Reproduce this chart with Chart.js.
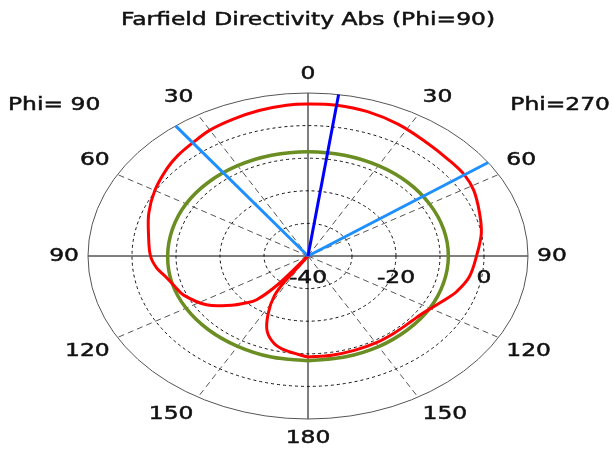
<!DOCTYPE html>
<html>
<head>
<meta charset="utf-8">
<script src="https://cdn.jsdelivr.net/npm/chart.js@4.4.1/dist/chart.umd.min.js"></script>
<style>
  body { margin: 0; background: #fff; }
  canvas { display: block; }
</style>
</head>
<body>
<canvas id="farfield" width="613" height="450"></canvas>
<script>
// radial range in dB (centre .. outer ring)
const rMin = -40;
const rMax = 10;
const ringLevels = [-30, -20, -10, 0];
const tickLevels = [-40, -20, 0];
const spokeAngles = [-150, -120, -60, -30, 30, 60, 120, 150];
const angleTicks = [0, 30, 60, 90, 120, 150, 180, -150, -120, -90, -60, -30];

// red: directivity, theta in degrees clockwise from top (left side negative)
const redTheta = [-180, -170, -164, -158, -153, -148, -146, -144, -142, -139, -135, -131, -123, -113, -107, -101, -96,
  -90, -80, -70, -60, -50, -44, -37, -30, -22, -14, -6, 0, 8, 17, 27, 38, 47, 55, 62, 71, 80,
  90, 100, 108, 113, 119, 125, 130, 140, 150, 160, 170, 180];
const redDb = [-9.0, -10.6, -12.1, -15.2, -20.0, -25.5, -31.0, -40.0, -29.0, -22.2, -19.5, -17.0, -12.5, -9.3, -8.3, -7.0, -5.4,
  -4.2, -3.2, -1.5, 0.2, 1.8, 2.7, 3.5, 4.6, 5.3, 6.0, 6.5, 6.6, 6.7, 6.3, 5.3, 4.0, 3.5, 3.4, 2.7, 1.2, 0.0,
  -1.7, -2.8, -4.5, -6.0, -7.6, -8.7, -9.1, -9.3, -9.2, -9.2, -9.1, -9.0];

// green: reference level
const greenTheta = [-180, -165, -150, -135, -120, -105, -90, -75, -60, -45, -30, -15,
  0, 15, 30, 45, 60, 75, 90, 105, 120, 135, 150, 165, 180];
const greenDb = [-7.9, -7.9, -8.0, -8.0, -8.0, -8.0, -8.1, -8.1, -8.0, -8.0, -8.0, -8.0,
  -8.0, -8.0, -8.0, -8.0, -8.1, -8.1, -8.1, -8.1, -8.0, -8.0, -7.9, -7.9, -7.9];

// main lobe direction and 3 dB beam edges
const mainLobeTheta = [8];
const beamEdgeTheta = [-37, 55];

function toXY(theta, db) {
  const r = Math.max(db, rMin) - rMin;
  const a = theta * Math.PI / 180;
  return { x: r * Math.sin(a), y: r * Math.cos(a) };
}

function curve(thetas, values) {
  return thetas.map((t, i) => toXY(t, values[i]));
}

function ray(theta) {
  return [toXY(theta, rMin), toXY(theta, rMax)];
}

const TEXT_SX = 1.3;
const FONT = '18px "DejaVu Sans", Verdana, sans-serif';

function stretchedText(ctx, text, x, y, align, baseline) {
  ctx.save();
  ctx.translate(x, y);
  ctx.scale(TEXT_SX, 1);
  ctx.font = FONT;
  ctx.fillStyle = '#111';
  ctx.strokeStyle = '#111';
  ctx.lineWidth = 0.5;
  ctx.textAlign = align;
  ctx.textBaseline = baseline;
  ctx.fillText(text, 0, 0);
  ctx.strokeText(text, 0, 0);
  ctx.restore();
}

// grid: rings, spokes, axes and outer ring
const polarGrid = {
  id: 'polarGrid',
  beforeDatasetsDraw(chart) {
    const { ctx, scales: { x, y } } = chart;
    const cx = x.getPixelForValue(0);
    const cy = y.getPixelForValue(0);
    const span = rMax - rMin;
    const rx = x.getPixelForValue(span) - cx;
    const ry = cy - y.getPixelForValue(span);

    ctx.save();
    ctx.lineWidth = 1;

    ctx.strokeStyle = '#111';
    ctx.setLineDash([3, 3]);
    ringLevels.forEach(level => {
      const f = (level - rMin) / span;
      ctx.beginPath();
      ctx.ellipse(cx, cy, rx * f, ry * f, 0, 0, Math.PI * 2);
      ctx.stroke();
    });

    ctx.strokeStyle = '#555';
    ctx.setLineDash([6, 4]);
    spokeAngles.forEach(a => {
      const rad = a * Math.PI / 180;
      ctx.beginPath();
      ctx.moveTo(cx, cy);
      ctx.lineTo(cx + rx * Math.sin(rad), cy - ry * Math.cos(rad));
      ctx.stroke();
    });

    ctx.setLineDash([]);
    ctx.strokeStyle = '#000';
    ctx.beginPath();
    ctx.moveTo(cx, cy - ry);
    ctx.lineTo(cx, cy + ry);
    ctx.moveTo(cx - rx, cy);
    ctx.lineTo(cx + rx, cy);
    ctx.stroke();

    ctx.strokeStyle = '#555';
    ctx.beginPath();
    ctx.ellipse(cx, cy, rx, ry, 0, 0, Math.PI * 2);
    ctx.stroke();
    ctx.restore();
  },
  afterDraw(chart) {
    const { ctx, scales: { x, y } } = chart;
    const cx = x.getPixelForValue(0);
    const cy = y.getPixelForValue(0);
    const span = rMax - rMin;
    const rx = x.getPixelForValue(span) - cx;
    const ry = cy - y.getPixelForValue(span);

    // angle labels round the outer ring
    angleTicks.forEach(a => {
      const rad = a * Math.PI / 180;
      const s = Math.sin(rad), c = Math.cos(rad);
      const px = cx + (rx + 9) * s;
      const py = cy - (ry + 10) * c;
      let align = 'center';
      if (s > 0.01) align = 'left';
      if (s < -0.01) align = 'right';
      let base = 'middle';
      if (c > 0.01) base = 'bottom';
      if (c < -0.01) base = 'top';
      stretchedText(ctx, String(Math.abs(a)), px, py, align, base);
    });

    // dB tick labels along the right axis
    tickLevels.forEach(level => {
      stretchedText(ctx, String(level), x.getPixelForValue(level - rMin), cy + 22, 'center', 'middle');
    });

    stretchedText(ctx, 'Farfield Directivity Abs (Phi=90)', cx, 20, 'center', 'middle');
    stretchedText(ctx, 'Phi= 90', 8, 105, 'left', 'middle');
    stretchedText(ctx, 'Phi=270', 610, 105, 'right', 'middle');
  }
};

const lineStyle = { showLine: true, fill: false, pointRadius: 0, pointHoverRadius: 0 };

new Chart(document.getElementById('farfield'), {
  type: 'scatter',
  data: {
    datasets: [
      { ...lineStyle, label: 'main lobe', data: ray(mainLobeTheta[0]), borderColor: '#0000ff', borderWidth: 3, order: 0 },
      { ...lineStyle, label: '3 dB edge', data: ray(beamEdgeTheta[0]), borderColor: '#1e8fff', borderWidth: 3, order: 1 },
      { ...lineStyle, label: '3 dB edge', data: ray(beamEdgeTheta[1]), borderColor: '#1e8fff', borderWidth: 3, order: 1 },
      { ...lineStyle, label: 'directivity', data: curve(redTheta, redDb), borderColor: '#ff0000', borderWidth: 3, tension: 0.35, order: 2 },
      { ...lineStyle, label: 'reference', data: curve(greenTheta, greenDb), borderColor: '#6b8e23', borderWidth: 3.5, tension: 0.4, order: 3 }
    ]
  },
  options: {
    responsive: false,
    animation: false,
    layout: { padding: { left: 88, right: 85, top: 93, bottom: 31 } },
    scales: {
      x: { type: 'linear', min: rMin - rMax, max: rMax - rMin, display: false },
      y: { type: 'linear', min: rMin - rMax, max: rMax - rMin, display: false }
    },
    plugins: {
      legend: { display: false },
      tooltip: { enabled: false },
      title: { display: false }
    }
  },
  plugins: [polarGrid]
});
</script>
</body>
</html>
